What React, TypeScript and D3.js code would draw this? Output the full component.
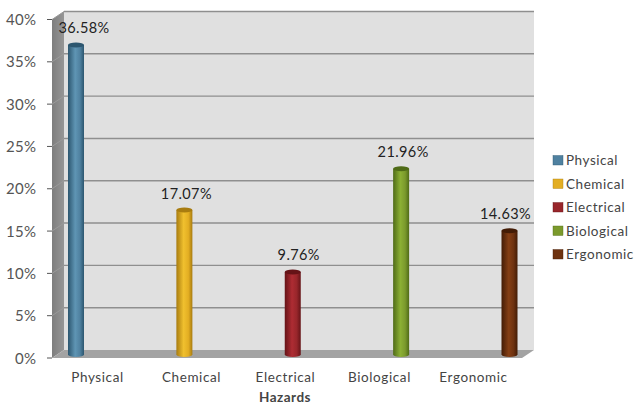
import React from "react";
import * as d3 from "d3";

const categories = ["Physical", "Chemical", "Electrical", "Biological", "Ergonomic"];
const shares = [36.58, 17.07, 9.76, 21.96, 14.63];
const axisTicks = [0, 5, 10, 15, 20, 25, 30, 35, 40];
const baseColors = ["#4f81a0", "#e3ae23", "#98262b", "#7b9a2c", "#6e3210"];
const edgeColors = ["#2c566f", "#a87c10", "#651317", "#4f6b17", "#431c06"];
const glowColors = ["#5f95b4", "#f0c02e", "#ae2c33", "#8cb034", "#853f15"];
const labelNudge = [8, 2, 6, 2, -4];

const W = 636;
const H = 405;
const FONT = "Lato, 'Open Sans', sans-serif";
const DEPTH_X = 12;
const DEPTH_Y = 8;

// Front plane of the 3D box; the back wall is shifted by the depth offset.
const frontLeft = 52;
const frontRight = 522;
const frontBottom = 358;
const frontTop = 19.5;

const yFront = d3.scaleLinear().domain([0, 40]).range([frontBottom, frontTop]);
const yBar = d3.scaleLinear().domain([0, 40]).range([354.5, 354.5 - (frontBottom - frontTop)]);
const xBand = d3.scaleBand().domain(categories).range([frontLeft, frontRight]);
const xBar = d3.scalePoint().domain(categories).range([76, 509.5]);

const BAR_RX = 8;

export default function App() {
  const left = frontLeft;
  const back = (v: number) => yFront(v) - DEPTH_Y;
  return (
    <svg width={W} height={H} viewBox={`0 0 ${W} ${H}`} style={{ position: "absolute", left: 0, top: 0, background: "#fff" }} fontFamily={FONT}>
      <defs>
        <linearGradient id="wall" x1="0" x2="1" y1="0" y2="0">
          <stop offset="0" stopColor="#7e7e7e" />
          <stop offset="1" stopColor="#969696" />
        </linearGradient>
        {categories.map((c, i) => (
          <linearGradient key={c} id={`bar${i}`} x1="0" x2="1" y1="0" y2="0">
            <stop offset="0" stopColor={edgeColors[i]} />
            <stop offset="0.45" stopColor={glowColors[i]} />
            <stop offset="0.75" stopColor={baseColors[i]} />
            <stop offset="1" stopColor={edgeColors[i]} />
          </linearGradient>
        ))}
      </defs>

      {/* back wall */}
      <rect x={left + DEPTH_X} y={back(40)} width={frontRight - left} height={back(0) - back(40)} fill="#e0e0e0" />
      {/* side wall */}
      <polygon
        points={`${left},${yFront(0)} ${left},${yFront(40)} ${left + DEPTH_X},${back(40)} ${left + DEPTH_X},${back(0)}`}
        fill="url(#wall)"
      />
      {/* floor */}
      <polygon
        points={`${left},${yFront(0)} ${left + DEPTH_X},${back(0)} ${frontRight + DEPTH_X},${back(0)} ${frontRight},${yFront(0)}`}
        fill="#a3a3a3"
      />

      {/* gridlines wrapping from side wall to back wall */}
      {axisTicks.filter((t) => t > 0).map((t) => (
        <g key={t}>
          <line x1={left} x2={left + DEPTH_X} y1={yFront(t)} y2={back(t)} stroke="#9a9a9a" strokeWidth={1} />
          <line x1={left + DEPTH_X} x2={frontRight + DEPTH_X} y1={back(t)} y2={back(t)} stroke="#8f8f8f" strokeWidth={1.4} />
        </g>
      ))}

      {/* value axis */}
      {axisTicks.map((t) => (
        <g key={t}>
          <line x1={left - 5} x2={left} y1={yFront(t)} y2={yFront(t)} stroke="#555" />
          <text x={36.5} y={yFront(t) + 5.5} textAnchor="end" fontSize={15} letterSpacing={0.4} fill="#555">{`${t}%`}</text>
        </g>
      ))}

      {/* cylinders */}
      {categories.map((c, i) => {
        const cx = xBar(c) as number;
        const top = yBar(shares[i]);
        const bottom = yBar(0);
        return (
          <g key={c}>
            <path
              d={`M${cx - BAR_RX},${top} L${cx - BAR_RX},${bottom} A${BAR_RX},2.5 0 0 0 ${cx + BAR_RX},${bottom} L${cx + BAR_RX},${top} Z`}
              fill={`url(#bar${i})`}
            />
            <ellipse cx={cx} cy={top} rx={BAR_RX} ry={2.5} fill={edgeColors[i]} />
            <text x={cx + labelNudge[i]} y={top - 11.5} textAnchor="middle" fontSize={14.5} letterSpacing={0.4} fill="#222">
              {`${shares[i].toFixed(2)}%`}
            </text>
          </g>
        );
      })}

      {/* category axis */}
      {categories.map((c) => (
        <text key={c} x={(xBand(c) as number) + xBand.bandwidth() / 2 - 1.5} y={382} textAnchor="middle" fontSize={13.5} letterSpacing={0.6} fill="#444">
          {c}
        </text>
      ))}
      <text x={285} y={402} textAnchor="middle" fontSize={13.5} fontWeight={700} letterSpacing={0.5} fill="#444">Hazards</text>

      {/* legend */}
      {categories.map((c, i) => (
        <g key={c} transform={`translate(553,${155.5 + i * 23.5})`}>
          <rect width={10} height={9.5} fill={baseColors[i]} stroke={edgeColors[i]} strokeWidth={0.4} />
          <text x={13} y={9.5} fontSize={13.5} letterSpacing={0.55} fill="#444">{c}</text>
        </g>
      ))}
    </svg>
  );
}
